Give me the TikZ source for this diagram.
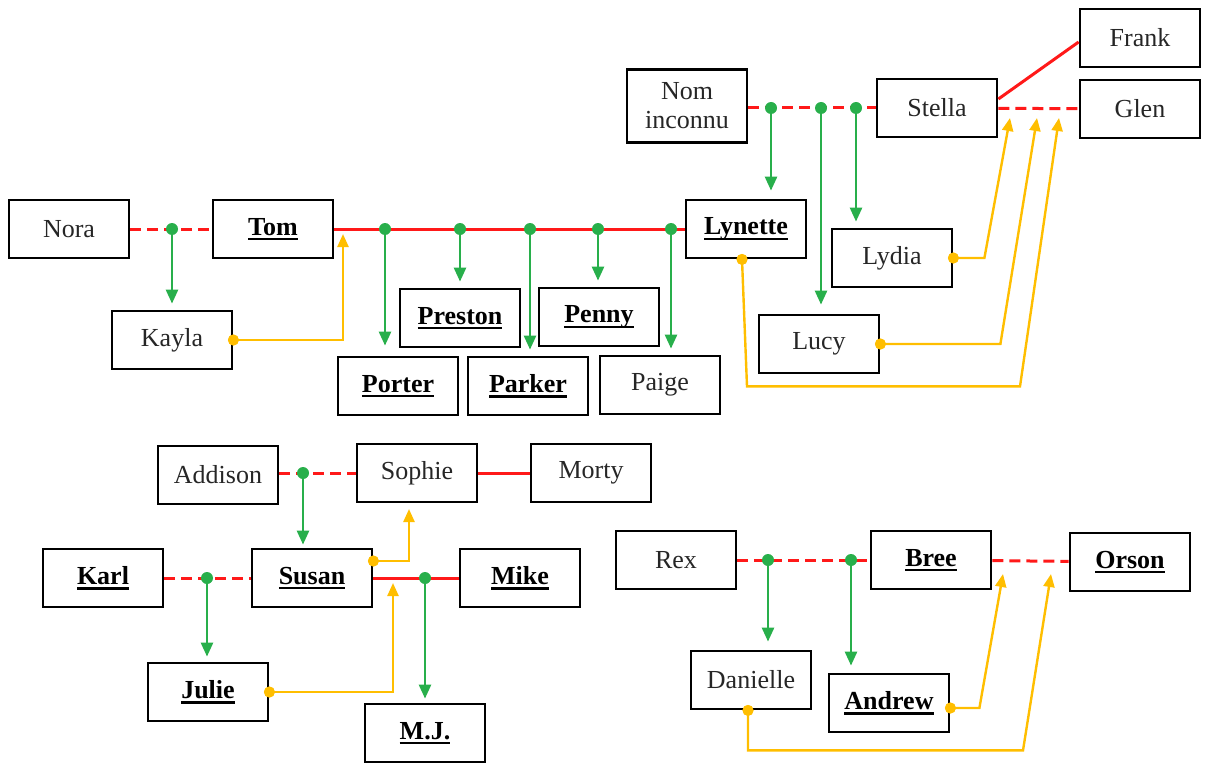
\documentclass[tikz,border=0pt]{standalone}
\usepackage{fontspec}
\setmainfont{Liberation Serif}
\usetikzlibrary{arrows.meta}

\definecolor{wedred}{RGB}{255,25,25}
\definecolor{kidgreen}{RGB}{40,175,75}
\definecolor{stepgold}{RGB}{255,190,0}

\newcommand{\heir}[1]{\setbox0\hbox{\color{black}\textbf{#1}}\rlap{\color{black}\rule[-5pt]{\wd0}{2.2pt}}\box0}

\begin{document}
\begin{tikzpicture}[x=1pt,y=-1pt]
            \tikzstyle{person}=[draw, line width=2.8pt, minimum width=120pt, minimum height=58pt, inner sep=2pt, font=\fontsize{26}{29}\selectfont, text=black!85]
            \tikzstyle{connect}=[circle, fill=kidgreen, inner sep=0pt, minimum size=12pt]
            \tikzstyle{stepdot}=[circle, fill=stepgold, inner sep=0pt, minimum size=11pt]
            \tikzstyle{couple}=[line width=3pt, wedred]
            \tikzstyle{exes}=[couple, dash pattern=on 11pt off 6pt]
            \tikzstyle{child}=[line width=2.6pt, kidgreen, -{Triangle[length=14pt,width=12pt]}, shorten >=6pt]
            \tikzstyle{stepline}=[line width=2.4pt, stepgold, -{Triangle[length=13pt,width=11pt]}]

            \useasboundingbox (0,0) rectangle (1207,765);

            % first family
            \node[person] (nora) at (69,229) {Nora};
            \node[person] (tom) at (273,229) {\heir{Tom}};
            \node[person] (kayla) at (172,340) {Kayla};
            \node[person] (preston) at (460,318) {\heir{Preston}};
            \node[person] (penny) at (599,317) {\heir{Penny}};
            \node[person] (porter) at (398,386) {\heir{Porter}};
            \node[person] (parker) at (528,386) {\heir{Parker}};
            \node[person] (paige) at (660,385) {Paige};
            \node[person] (lynette) at (746,229) {\heir{Lynette}};
            \node[person, minimum height=73pt, align=center] (nom) at (687,106) {Nom\\inconnu};
            \node[person] (stella) at (937,108) {Stella};
            \node[person] (frank) at (1140,38) {Frank};
            \node[person] (glen) at (1140,109) {Glen};
            \node[person] (lydia) at (892,258) {Lydia};
            \node[person] (lucy) at (819,344) {Lucy};

            % second family
            \node[person] (addison) at (218,475) {Addison};
            \node[person] (sophie) at (417,473) {Sophie};
            \node[person] (morty) at (591,473) {Morty};
            \node[person] (karl) at (103,578) {\heir{Karl}};
            \node[person] (susan) at (312,578) {\heir{Susan}};
            \node[person] (mike) at (520,578) {\heir{Mike}};
            \node[person] (julie) at (208,692) {\heir{Julie}};
            \node[person] (mj) at (425,733) {\heir{M.J.}};

            % third family
            \node[person] (rex) at (676,560) {Rex};
            \node[person] (bree) at (931,560) {\heir{Bree}};
            \node[person] (orson) at (1130,562) {\heir{Orson}};
            \node[person] (danielle) at (751,680) {Danielle};
            \node[person] (andrew) at (889,703) {\heir{Andrew}};

            % couples
            \draw[exes] (nora) -- (tom);
            \draw[couple] (tom) -- (lynette);
            \draw[exes] (nom.east |- stella) -- (stella);
            \draw[couple] ([yshift=9pt]stella.east) -- ([yshift=-4pt]frank.west);
            \draw[exes] (stella) -- (glen);
            \draw[exes] (addison.east |- sophie) -- (sophie);
            \draw[couple] (sophie) -- (morty);
            \draw[exes] (karl) -- (susan);
            \draw[couple] (susan) -- (mike);
            \draw[exes] (rex) -- (bree);
            \draw[exes] (bree) -- (orson);

            % union dots
            \node[connect] (n1) at (172,229) {};
            \node[connect] (t1) at (385,229) {};
            \node[connect] (t2) at (460,229) {};
            \node[connect] (t3) at (530,229) {};
            \node[connect] (t4) at (598,229) {};
            \node[connect] (t5) at (671,229) {};
            \node[connect] (s1) at (771,108) {};
            \node[connect] (s2) at (821,108) {};
            \node[connect] (s3) at (856,108) {};
            \node[connect] (a1) at (303,473) {};
            \node[connect] (k1) at (207,578) {};
            \node[connect] (m1) at (425,578) {};
            \node[connect] (r1) at (768,560) {};
            \node[connect] (r2) at (851,560) {};

            % children
            \draw[child] (n1) -- (n1 |- kayla.north);
            \draw[child, shorten >=10pt] (t1) -- (t1 |- porter.north);
            \draw[child] (t2) -- (t2 |- preston.north);
            \draw[child] (t3) -- (t3 |- parker.north);
            \draw[child] (t4) -- (t4 |- penny.north);
            \draw[child] (t5) -- (t5 |- paige.north);
            \draw[child, shorten >=8pt] (s1) -- (s1 |- lynette.north);
            \draw[child, shorten >=9pt] (s2) -- (s2 |- lucy.north);
            \draw[child] (s3) -- (s3 |- lydia.north);
            \draw[child, shorten >=3pt] (a1) -- (a1 |- susan.north);
            \draw[child, shorten >=5pt] (k1) -- (k1 |- julie.north);
            \draw[child, shorten >=4pt] (m1) -- (m1 |- mj.north);
            \draw[child, shorten >=8pt] (r1) -- (r1 |- danielle.north);
            \draw[child, shorten >=7pt] (r2) -- (r2 |- andrew.north);

            % step links
            \coordinate (tomIn) at (343,234);
            \coordinate (lydIn) at (1010,118);
            \coordinate (lucIn) at (1037,118);
            \coordinate (lynIn) at (1059,118);
            \coordinate (sophIn) at (409,509);
            \coordinate (mikeIn) at (393,583);
            \coordinate (breeIn) at (1003,574);
            \coordinate (orsIn) at (1051,574);

            \node[stepdot] (kd) at (kayla.east) {};
            \node[stepdot] (ld) at (lydia.east) {};
            \node[stepdot] (cd) at (lucy.east) {};
            \node[stepdot] (yd) at ([xshift=-4pt]lynette.south) {};
            \node[stepdot] (sd) at ([yshift=17pt]susan.east) {};
            \node[stepdot] (jd) at (julie.east) {};
            \node[stepdot] (ad) at ([yshift=-5pt]andrew.east) {};
            \node[stepdot] (dd) at ([xshift=-3pt]danielle.south) {};

            \draw[stepline] (kd.center) -| (tomIn);
            \draw[stepline] (ld.center) -- ++(31,0) -- (lydIn);
            \draw[stepline] (cd.center) -- ++(120,0) -- (lucIn);
            \draw[stepline] (yd.center) -- ++(5,127) -- ++(273,0) -- (lynIn);
            \draw[stepline] (sd.center) -| (sophIn);
            \draw[stepline] (jd.center) -| (mikeIn);
            \draw[stepline] (ad.center) -- ++(29,0) -- (breeIn);
            \draw[stepline] (dd.center) -- ++(0,40) -- ++(275,0) -- (orsIn);

            % dots on top
            \node[stepdot] at (kd) {};
            \node[stepdot] at (ld) {};
            \node[stepdot] at (cd) {};
            \node[stepdot] at (yd) {};
            \node[stepdot] at (sd) {};
            \node[stepdot] at (jd) {};
            \node[stepdot] at (ad) {};
            \node[stepdot] at (dd) {};
        \end{tikzpicture}
\end{document}
